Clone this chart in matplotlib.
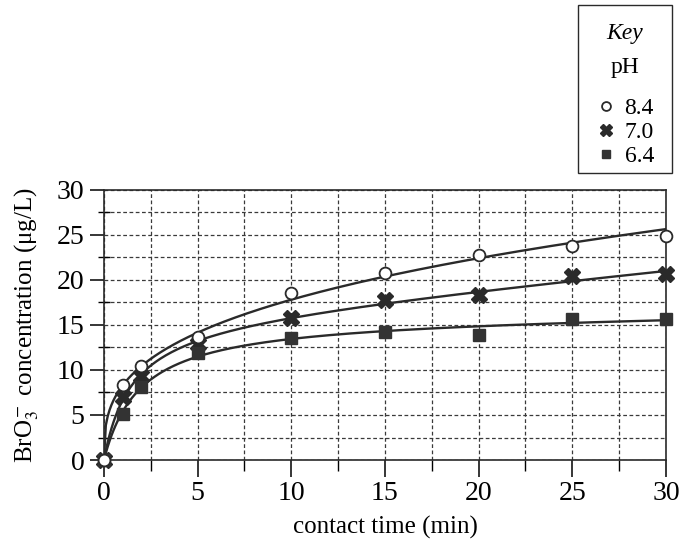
import numpy as np
import matplotlib
matplotlib.use("Agg")
from matplotlib import pyplot as plt
from matplotlib.patches import Rectangle
from matplotlib.ticker import MultipleLocator

plt.rcParams['font.family'] = ['Liberation Serif', 'DejaVu Serif']
plt.rcParams['mathtext.fontset'] = 'stix'

# contact time (min) and bromate concentration (ug/L)
time = [0, 1, 2, 5, 10, 15, 20, 25, 30]
ph84 = [0, 8.3, 10.4, 13.7, 18.5, 20.8, 22.8, 23.8, 24.9]
ph70 = [0, 7.0, 9.3, 12.9, 15.8, 17.8, 18.3, 20.4, 20.6]
ph64 = [0, 5.1, 8.1, 11.9, 13.6, 14.2, 13.9, 15.7, 15.7]
labels = ['8.4', '7.0', '6.4']
xticks = [0, 5, 10, 15, 20, 25, 30]
yticks = [0, 5, 10, 15, 20, 25, 30]

ink = '#2a2a2a'


def fit_curve(t, y):
    # trend line: best of a*t/(k+t) + c*t (k by coarse search) and a*t**b
    t = np.asarray(t, float)
    y = np.asarray(y, float)
    cands = []
    for k in np.linspace(0.2, 20, 400):
        A = np.column_stack([t / (k + t), t])
        coef = np.linalg.lstsq(A, y, rcond=None)[0]
        f = (lambda a, c, k: lambda x: a * x / (k + x) + c * x)(coef[0], coef[1], k)
        cands.append((np.sum((f(t) - y) ** 2), f))
    m = t > 0
    b, lna = np.polyfit(np.log(t[m]), np.log(y[m]), 1)
    f = (lambda a, b: lambda x: a * np.power(x, b))(np.exp(lna), b)
    cands.append((np.sum((f(t) - y) ** 2), f))
    return min(cands, key=lambda c: c[0])[1]


fig = plt.figure(figsize=(6.93, 5.47), dpi=100)
ax = fig.add_axes([0.150, 0.159, 0.811, 0.494])

tt = np.linspace(0, 30, 300)
for ys in (ph64, ph70, ph84):
    f = fit_curve(time, ys)
    ax.plot(tt, f(tt), color=ink, lw=1.7, zorder=3)

ax.plot(time, ph70, ls='none', marker='X', ms=11, color=ink, mec=ink,
        label=labels[1], zorder=4, clip_on=False)
ax.plot(time, ph64, ls='none', marker='s', ms=8.5, color='#333333',
        label=labels[2], zorder=4, clip_on=False)
ax.plot(time, ph84, ls='none', marker='o', ms=8.5, mfc='white', mec=ink,
        mew=1.3, label=labels[0], zorder=5, clip_on=False)

ax.set_xlim(0, 30)
ax.set_ylim(0, 30)
ax.set_xticks(xticks)
ax.set_yticks(yticks)
ax.xaxis.set_minor_locator(MultipleLocator(2.5))
ax.yaxis.set_minor_locator(MultipleLocator(2.5))
ax.tick_params(axis='x', which='major', direction='out', length=12,
               width=1.1, labelsize=20, pad=3)
ax.tick_params(axis='x', which='minor', direction='out', length=8, width=1.0)
ax.tick_params(axis='y', which='major', direction='out', length=10,
               width=1.1, labelsize=20, pad=4)
ax.tick_params(axis='y', which='minor', direction='inout', length=9, width=1.0)
ax.grid(True, which='both', color='#3a3a3a', lw=0.9, ls=(0, (3, 2)))
for s in ax.spines.values():
    s.set_linewidth(1.2)
    s.set_color(ink)

ax.set_xlabel('contact time (min)', fontsize=18, labelpad=7)
ax.set_ylabel('BrO$_3^-$ concentration (μg/L)', fontsize=18, labelpad=11)

# key box above the plot
fig.add_artist(Rectangle((0.834, 0.684), 0.136, 0.307, transform=fig.transFigure,
                         fill=False, edgecolor=ink, lw=1.0))
fig.text(0.902, 1 - 33 / 547, 'Key', style='italic', fontsize=17,
         ha='center', va='center')
fig.text(0.902, 1 - 68 / 547, 'pH', fontsize=17, ha='center', va='center')
h, l = ax.get_legend_handles_labels()
order = [2, 0, 1]
leg = fig.legend([h[i] for i in order], [l[i] for i in order],
                 loc='upper center', bbox_to_anchor=(0.902, 1 - 81 / 547),
                 frameon=False, fontsize=17,
                 handlelength=0.8, handletextpad=0.4, labelspacing=0.1,
                 borderpad=0.2, markerscale=0.75)

fig.savefig('out.png', dpi=100)
